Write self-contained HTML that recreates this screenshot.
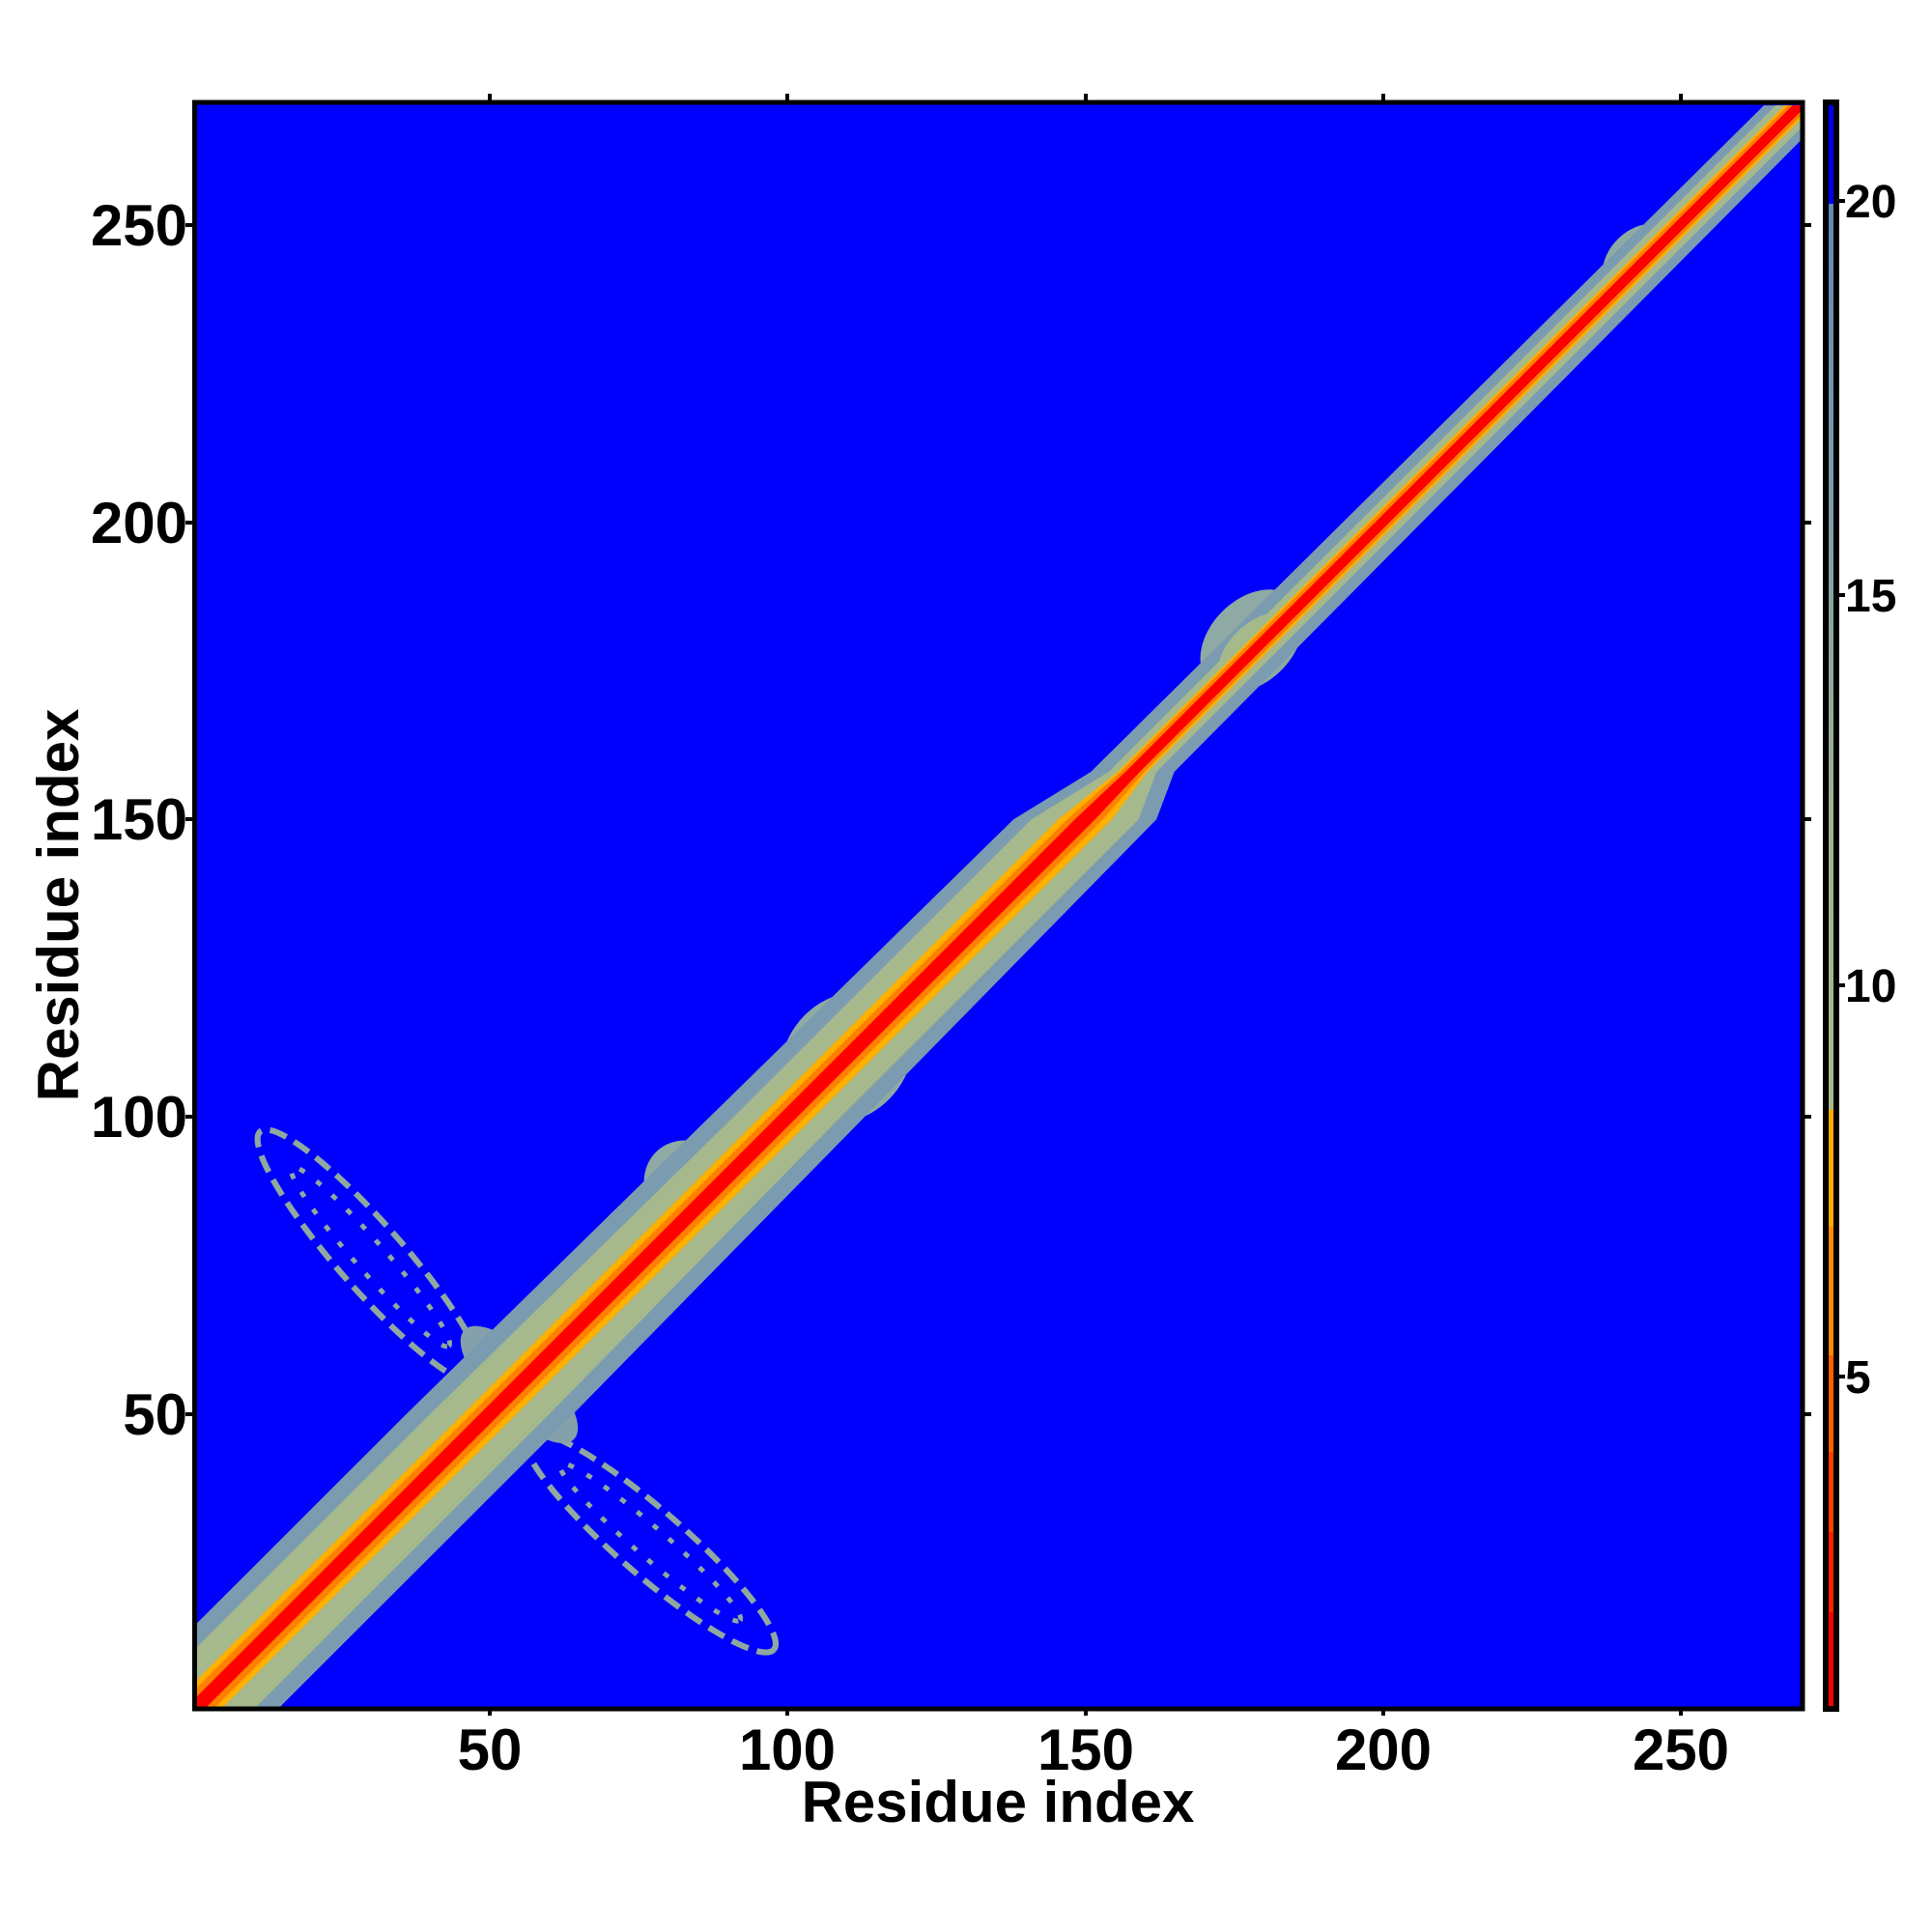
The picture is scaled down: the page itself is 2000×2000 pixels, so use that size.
<!DOCTYPE html>
<html><head><meta charset="utf-8"><style>
html,body{margin:0;padding:0;background:#fff;}
svg{display:block;}
text{font-family:"Liberation Sans",Arial,sans-serif;font-weight:bold;fill:#000;}
</style></head><body>
<svg width="2000" height="2000" viewBox="0 0 2000 2000" xmlns="http://www.w3.org/2000/svg">
<defs>
<clipPath id="pc"><rect x="201.5" y="106" width="1664.5" height="1663"/></clipPath>
<linearGradient id="cb" x1="0" y1="1" x2="0" y2="0">
<stop offset="0" stop-color="#ff0000"/>
<stop offset="0.06" stop-color="#ff0000"/>
<stop offset="0.06" stop-color="#ff2000"/>
<stop offset="0.11" stop-color="#ff2000"/>
<stop offset="0.11" stop-color="#ff4000"/>
<stop offset="0.16" stop-color="#ff4000"/>
<stop offset="0.16" stop-color="#ff6000"/>
<stop offset="0.22" stop-color="#ff6000"/>
<stop offset="0.22" stop-color="#ff8800"/>
<stop offset="0.30" stop-color="#ff8800"/>
<stop offset="0.30" stop-color="#ffa800"/>
<stop offset="0.373" stop-color="#ffa800"/>
<stop offset="0.373" stop-color="#a8ba8a"/>
<stop offset="0.55" stop-color="#9fb38e"/>
<stop offset="0.75" stop-color="#7d9ca9"/>
<stop offset="0.937" stop-color="#6288b4"/>
<stop offset="0.937" stop-color="#0000ff"/>
<stop offset="1" stop-color="#0000ff"/>
</linearGradient>
</defs>
<rect x="201.5" y="106" width="1664.5" height="1663" fill="#0000ff"/>
<g clip-path="url(#pc)">
<g transform="translate(201.5,1769) scale(6.165,-6.159) translate(-0.5,-0.5)">
<ellipse cx="30" cy="76.5" rx="28" ry="5.5" transform="rotate(-48.7 30 76.5)" fill="none" stroke="#8fa8a0" stroke-width="1" stroke-dasharray="3 1.5"/>
<ellipse cx="30" cy="76.5" rx="20" ry="2.5" transform="rotate(-48.7 30 76.5)" fill="none" stroke="#8fa8a0" stroke-width="0.8" stroke-dasharray="1 2.5"/>
<ellipse cx="77" cy="28.5" rx="27.5" ry="5.5" transform="rotate(-41 77 28.5)" fill="none" stroke="#8fa8a0" stroke-width="1" stroke-dasharray="3 1.5"/>
<ellipse cx="77" cy="28.5" rx="20" ry="2.5" transform="rotate(-41 77 28.5)" fill="none" stroke="#8fa8a0" stroke-width="0.8" stroke-dasharray="1 2.5"/>
<ellipse cx="178" cy="180" rx="10" ry="7" transform="rotate(45 178 180)" fill="#8fa9a4"/>
<ellipse cx="243" cy="244" rx="7" ry="5" transform="rotate(45 243 244)" fill="#8fa9a4"/>
<ellipse cx="110" cy="110" rx="12" ry="10" transform="rotate(45 110 110)" fill="#8fa9a4"/>
<ellipse cx="55" cy="55" rx="5" ry="13" transform="rotate(45 55 55)" fill="#84a0ab"/>
<ellipse cx="85" cy="87" rx="8" ry="10" transform="rotate(45 85 87)" fill="#8fa9a4"/>
<polygon fill="#7b9bb0" points="-14,0 36,50 87,100 138,150 151,158 264,270 276,270 165,158 162,150 113,100 64,50 14,0"/>
<polygon fill="#a6b98c" points="-10,0 40,50 91,100 141,150 154,158 266,270 274,270 162,158 159,150 109,100 60,50 10,0"/>
<ellipse cx="178" cy="179" rx="7" ry="3.5" transform="rotate(45 178 179)" fill="#a6b98c"/>
<polygon fill="#ffb000" points="-4.5,0 145.5,150 155.5,158 267.5,270 272.5,270 160.5,158 154.5,150 4.5,0"/>
<polygon fill="#ff8000" points="-3.2,0 147,150 156,158 268,270 272,270 160,158 153,150 3.2,0"/>
<polygon fill="#ff0000" points="-1.7,0 148.3,150 156.8,158 268.8,270 271.2,270 159.2,158 151.7,150 1.7,0"/>
</g>
</g>
<rect x="201.5" y="106" width="1664.5" height="1663" fill="none" stroke="#000" stroke-width="5"/>
<rect x="1890" y="106" width="11" height="1663" fill="url(#cb)" stroke="#000" stroke-width="6"/>
<g stroke="#000" stroke-width="4">
<line x1="507" y1="106" x2="507" y2="97"/><line x1="815" y1="106" x2="815" y2="97"/><line x1="1124" y1="106" x2="1124" y2="97"/><line x1="1432" y1="106" x2="1432" y2="97"/><line x1="1740" y1="106" x2="1740" y2="97"/>
<line x1="507" y1="1769" x2="507" y2="1776"/><line x1="815" y1="1769" x2="815" y2="1776"/><line x1="1124" y1="1769" x2="1124" y2="1776"/><line x1="1432" y1="1769" x2="1432" y2="1776"/><line x1="1740" y1="1769" x2="1740" y2="1776"/>
<line x1="201" y1="1464" x2="192" y2="1464"/><line x1="201" y1="1156" x2="192" y2="1156"/><line x1="201" y1="848" x2="192" y2="848"/><line x1="201" y1="541" x2="192" y2="541"/><line x1="201" y1="233" x2="192" y2="233"/>
<line x1="1866" y1="1464" x2="1875" y2="1464"/><line x1="1866" y1="1156" x2="1875" y2="1156"/><line x1="1866" y1="848" x2="1875" y2="848"/><line x1="1866" y1="541" x2="1875" y2="541"/><line x1="1866" y1="233" x2="1875" y2="233"/>
<line x1="1903" y1="1425" x2="1910" y2="1425"/><line x1="1903" y1="1020" x2="1910" y2="1020"/><line x1="1903" y1="616" x2="1910" y2="616"/><line x1="1903" y1="208" x2="1910" y2="208"/>
</g>
<g font-size="60" text-anchor="middle">
<text x="507" y="1832">50</text><text x="815" y="1832">100</text><text x="1124" y="1832">150</text><text x="1432" y="1832">200</text><text x="1740" y="1832">250</text>
</g>
<g font-size="60" text-anchor="end">
<text x="194" y="1485">50</text><text x="194" y="1177">100</text><text x="194" y="869">150</text><text x="194" y="562">200</text><text x="194" y="254">250</text>
</g>
<g font-size="48">
<text x="1910" y="1442">5</text><text x="1910" y="1037">10</text><text x="1910" y="633">15</text><text x="1910" y="225">20</text>
</g>
<text x="1033" y="1886" font-size="60" text-anchor="middle">Residue index</text>
<text transform="translate(81,937) rotate(-90)" font-size="60" text-anchor="middle">Residue index</text>
</svg>
</body></html>
